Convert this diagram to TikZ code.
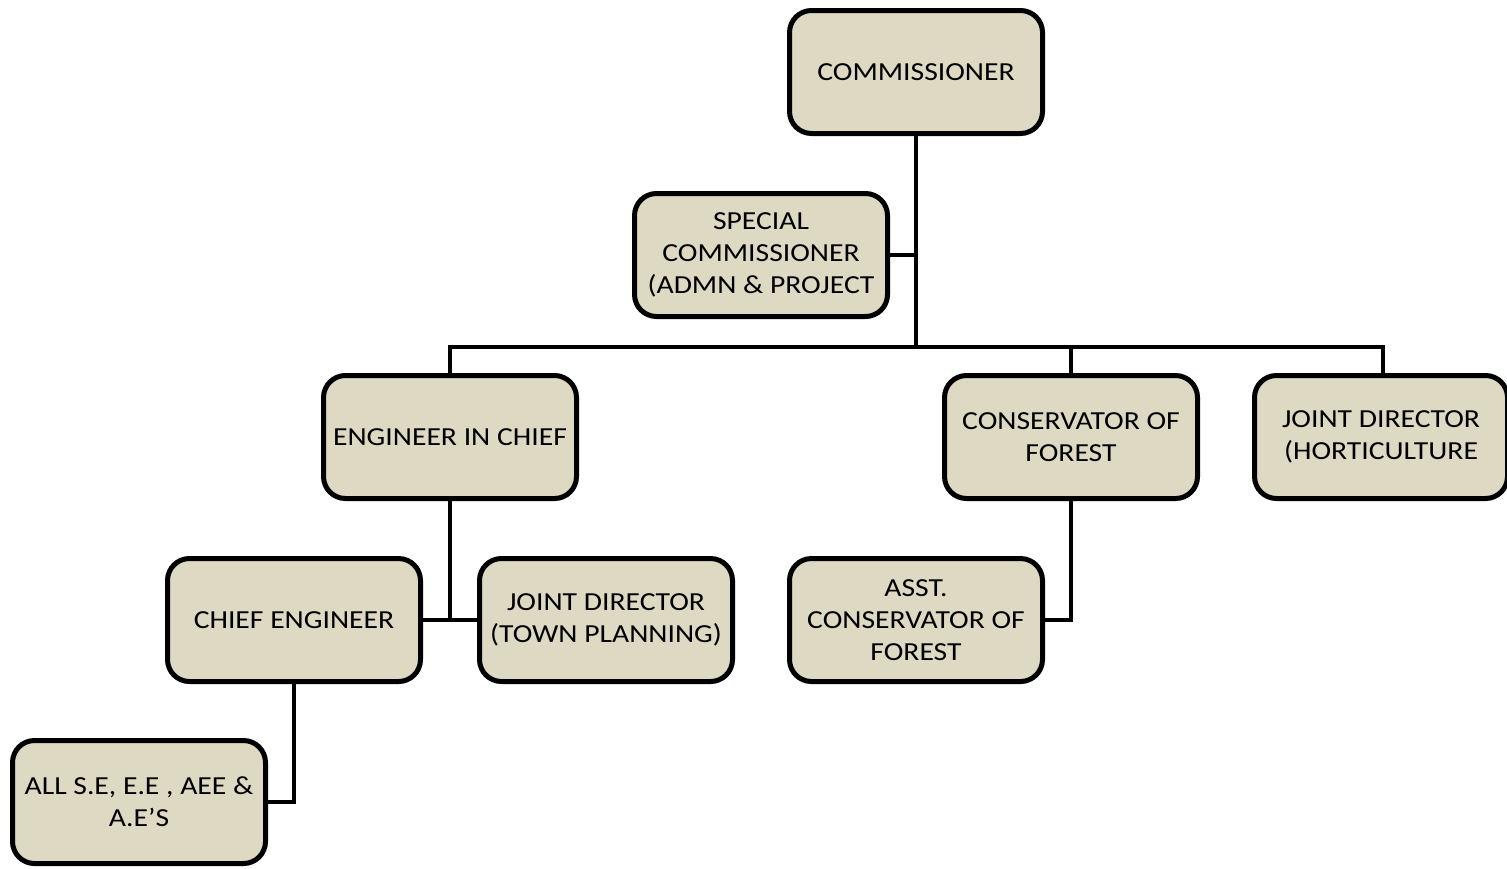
\documentclass[tikz,border=0pt]{standalone}
\usepackage{fontspec}
\setmainfont{Carlito}[FakeStretch=1.14]
\definecolor{boxfill}{HTML}{DDD9C3}
\begin{document}
\begin{tikzpicture}[x=0.5pt,y=-0.5pt,
  orgbox/.style={draw=black, line width=2.5pt, fill=boxfill, rounded corners=11pt,
    minimum width=126.5pt, minimum height=61.5pt, align=center, inner sep=1pt,
    font=\fontsize{13pt}{16pt}\selectfont},
  link/.style={line width=2pt}]
\clip (0,0) rectangle (1507,868);
\fill[white] (0,0) rectangle (1507,868);
\coordinate (hub) at (916,347);
\coordinate (hl) at (450,347);
\coordinate (hr) at (1383,347);
\coordinate (hc) at (1071,347);
\coordinate (eicj) at (450,620);
\coordinate (scj) at (916,255);
\node[orgbox] (com) at (916,72) {COMMISSIONER};
\node[orgbox] (sc) at (761,255) {SPECIAL\\COMMISSIONER\\(ADMN \& PROJECT};
\node[orgbox] (eic) at (450,437) {ENGINEER IN CHIEF};
\node[orgbox] (cof) at (1071,437) {CONSERVATOR OF\\FOREST};
\node[orgbox] (jdh) at (1381,437) {JOINT DIRECTOR\\(HORTICULTURE};
\node[orgbox] (ce) at (294,620) {CHIEF ENGINEER};
\node[orgbox] (jdt) at (606,620) {JOINT DIRECTOR\\(TOWN PLANNING)};
\node[orgbox] (acf) at (916,620) {ASST.\\CONSERVATOR OF\\FOREST};
\node[orgbox] (all) at (139,802) {ALL S.E, E.E , AEE \&\\A.E’S};
\draw[link] (com.south) -- (hub);
\draw[link] (sc.east) -- (scj);
\draw[link] (eic.north) |- (hl) -- (hr) -- (jdh.north -| hr);
\draw[link] (hc) -- (cof.north);
\draw[link] (eic.south) -- (eicj);
\draw[link] (ce.east) -- (jdt.west);
\draw[link] (cof.south) |- (acf.east);
\draw[link] (ce.south) |- (all.east);
\end{tikzpicture}
\end{document}
